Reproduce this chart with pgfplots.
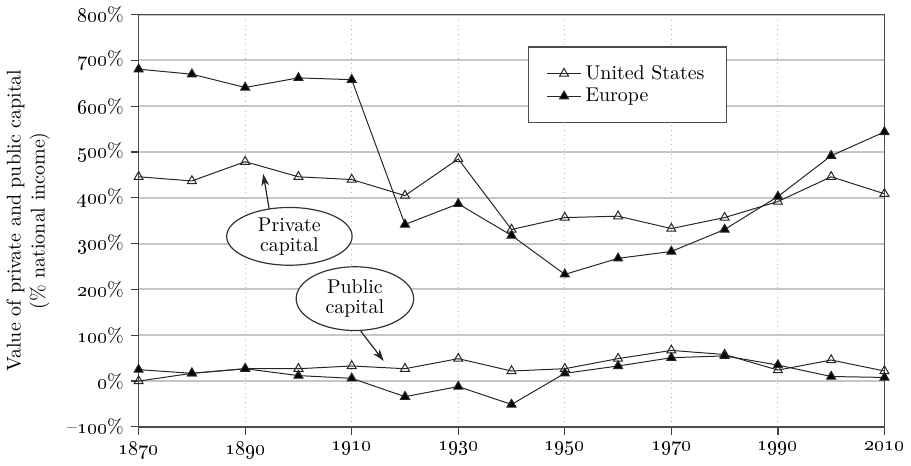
\documentclass[border=0pt]{standalone}
\usepackage{pgfplots}
\pgfplotsset{compat=1.18}
\usetikzlibrary{shapes.geometric,arrows.meta}
\newcommand{\os}[1]{\mbox{\oldstylenums{#1}}}
\begin{document}
\begin{tikzpicture}
\begin{axis}[
  scale only axis,
  width=374.5pt, height=207pt,
  xmin=1870, xmax=2010, ymin=-100, ymax=800,
  xtick={1870,1890,1910,1930,1950,1970,1990,2010},
  xticklabels={\os{1870},\os{1890},\os{1910},\os{1930},\os{1950},\os{1970},\os{1990},\os{2010}},
  ytick={-100,0,100,200,300,400,500,600,700,800},
  yticklabels={\mbox{--\oldstylenums{100}\%},\mbox{\oldstylenums{0}\%},\mbox{\oldstylenums{100}\%},\mbox{\oldstylenums{200}\%},\mbox{\oldstylenums{300}\%},\mbox{\oldstylenums{400}\%},\mbox{\oldstylenums{500}\%},\mbox{\oldstylenums{600}\%},\mbox{\oldstylenums{700}\%},\mbox{\oldstylenums{800}\%}},
  xtick pos=left, ytick pos=left,
  tick align=outside,
  major tick length=4pt,
  tick style={black!75, line width=0.6pt},
  xmajorgrids, ymajorgrids,
  x grid style={gray!60, dotted, line width=0.5pt},
  y grid style={gray!45, line width=1pt},
  extra y ticks={0},
  extra y tick labels={},
  extra y tick style={grid style={black!65, line width=0.9pt}, major tick length=0pt},
  axis line style={black!70, line width=0.8pt},
  ylabel={Value of private and public capital\\(\% national income)},
  ylabel style={align=center, yshift=-2pt},
  legend style={at={(rel axis cs:0.522,0.923)}, anchor=north west, draw=black!70, line width=0.7pt, font=\normalsize, inner xsep=9pt, inner ysep=7pt, row sep=-1pt},
  legend cell align=left,
]
% Private capital
\addplot[black!85, line width=0.5pt, mark=triangle, mark size=2.6pt, mark options={fill=white, solid}] coordinates {
 (1870,446) (1880,437) (1890,479) (1900,446) (1910,440) (1920,405) (1930,485) (1940,331)
 (1950,357) (1960,360) (1970,333) (1980,357) (1990,392) (2000,446) (2010,409)};
\addlegendentry{United States}
\addplot[black!85, line width=0.5pt, mark=triangle*, mark size=2.6pt, mark options={fill=black, solid}] coordinates {
 (1870,681) (1880,670) (1890,641) (1900,662) (1910,658) (1920,342) (1930,387) (1940,318)
 (1950,233) (1960,268) (1970,283) (1980,331) (1990,403) (2000,492) (2010,544)};
\addlegendentry{Europe}
% Public capital
\addplot[black!85, line width=0.5pt, mark=triangle, mark size=2.6pt, mark options={fill=white, solid}, forget plot] coordinates {
 (1870,0) (1880,17) (1890,27) (1900,27) (1910,33) (1920,27) (1930,49) (1940,22)
 (1950,27) (1960,49) (1970,67) (1980,58) (1990,24) (2000,46) (2010,22)};
\addplot[black!85, line width=0.5pt, mark=triangle*, mark size=2.6pt, mark options={fill=black, solid}, forget plot] coordinates {
 (1870,25) (1880,17) (1890,27) (1900,12) (1910,6) (1920,-34) (1930,-12) (1940,-51)
 (1950,17) (1960,33) (1970,51) (1980,55) (1990,35) (2000,10) (2010,8)};
% annotations
\node[ellipse, draw=black!80, line width=0.6pt, fill=white, minimum width=63pt, minimum height=29pt, inner sep=0pt, align=center] at (axis cs:1898.3,316) {Private\\[-2pt]capital};
\draw[black!85, line width=0.6pt, -{Stealth[length=6pt,width=4pt]}] (axis cs:1894.5,376) -- (axis cs:1893.4,452);
\node[ellipse, draw=black!80, line width=0.6pt, fill=white, minimum width=59pt, minimum height=32pt, inner sep=0pt, align=center] at (axis cs:1910.6,180) {Public\\[-2pt]capital};
\draw[black!85, line width=0.6pt, -{Stealth[length=6pt,width=4pt]}] (axis cs:1911.7,109) -- (axis cs:1916,44);
\end{axis}
\end{tikzpicture}
\end{document}
